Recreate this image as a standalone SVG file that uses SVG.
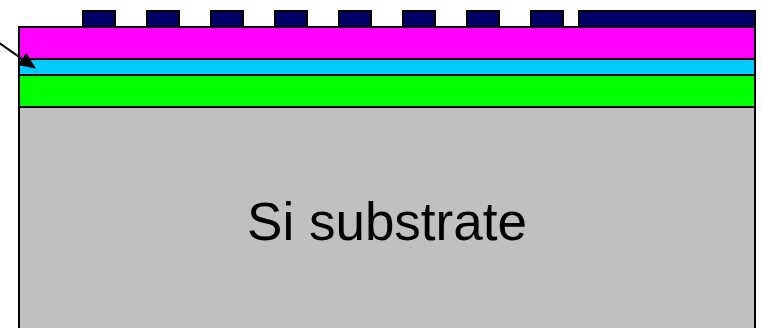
<svg xmlns="http://www.w3.org/2000/svg" width="762" height="328" viewBox="0 0 762 328">
<style>
.l{stroke:#000;stroke-width:2}
.el{fill:#000066;stroke:#000;stroke-width:2}
</style>
<defs>
<marker id="ah" markerWidth="17" markerHeight="15" refX="16" refY="7.5" orient="auto" markerUnits="userSpaceOnUse" viewBox="0 0 17 15">
<path d="M0,0 L17,7.5 L0,15 z" fill="#000"/>
</marker>
</defs>
<rect width="762" height="328" fill="#fff"/>
<g id="substrate">
<rect class="l" x="19" y="107" width="736" height="230" fill="#c0c0c0"/>
<text x="387" y="240" font-family="'Liberation Sans', Arial, sans-serif" font-size="53" text-anchor="middle" fill="#000">Si substrate</text>
</g>
<g id="green-layer"><rect class="l" x="19" y="75" width="736" height="32" fill="#00ff00"/></g>
<g id="cyan-layer"><rect class="l" x="19" y="59" width="736" height="16" fill="#00ccff"/></g>
<g id="magenta-layer"><rect class="l" x="19" y="27" width="736" height="32" fill="#ff00ff"/></g>
<g id="electrodes">
<rect class="el" x="83" y="11" width="32" height="16"/>
<rect class="el" x="147" y="11" width="32" height="16"/>
<rect class="el" x="211" y="11" width="32" height="16"/>
<rect class="el" x="275" y="11" width="32" height="16"/>
<rect class="el" x="339" y="11" width="32" height="16"/>
<rect class="el" x="403" y="11" width="32" height="16"/>
<rect class="el" x="467" y="11" width="32" height="16"/>
<rect class="el" x="531" y="11" width="32" height="16"/>
<rect class="el" x="579" y="11" width="176" height="16"/>
</g>
<g id="connectors">
<line x1="-2" y1="42" x2="35" y2="68" stroke="#000" stroke-width="2" marker-end="url(#ah)"/>
</g>
<rect x="19" y="27" width="736" height="310" fill="none" stroke="#000" stroke-width="2"/>
</svg>
